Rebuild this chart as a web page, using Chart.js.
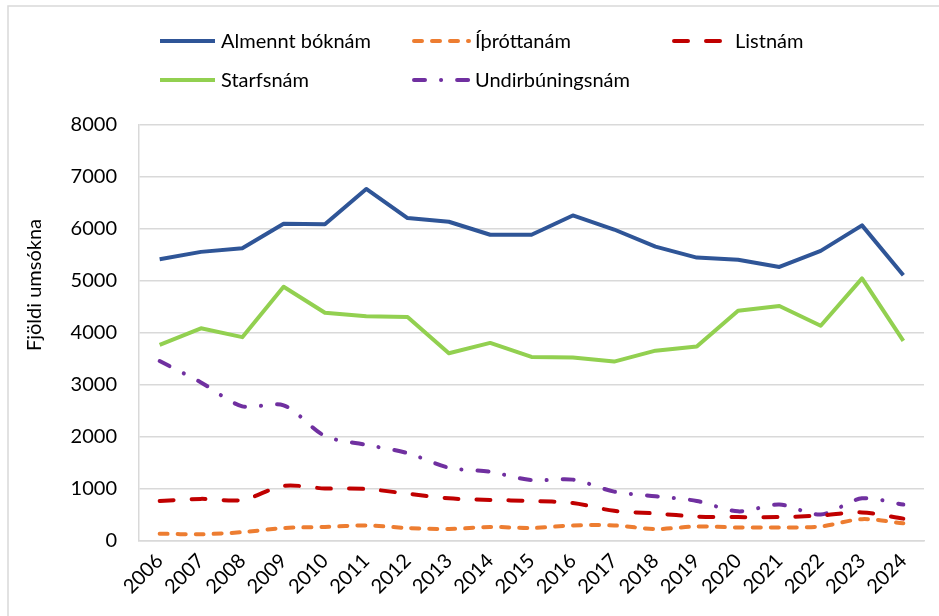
<!DOCTYPE html>
<html lang="is">
<head>
<meta charset="utf-8">
<title>Fjöldi umsókna</title>
<script src="https://cdn.jsdelivr.net/npm/chart.js@4/dist/chart.umd.min.js"></script>
<style>
  html, body { margin: 0; padding: 0; background: #fff; overflow: hidden; }
  #wrap { position: relative; width: 939px; height: 616px; }
</style>
</head>
<body>
<div id="wrap"><canvas id="chart" width="939" height="616"></canvas></div>
<script>
// years on the x axis
const years = ['2006', '2007', '2008', '2009', '2010', '2011', '2012', '2013', '2014', '2015',
  '2016', '2017', '2018', '2019', '2020', '2021', '2022', '2023', '2024'];

// series
const almennt = [5420, 5560, 5630, 6100, 6090, 6770, 6210, 6140, 5890, 5890,
  6260, 5990, 5660, 5450, 5410, 5270, 5580, 6070, 5110];
const ithrottir = [140, 130, 170, 250, 270, 300, 250, 230, 270, 250,
  300, 300, 230, 280, 260, 260, 280, 420, 340];
const list = [770, 810, 790, 1060, 1010, 1000, 910, 820, 790, 770,
  730, 580, 530, 470, 460, 460, 490, 550, 430];
const starfs = [3770, 4090, 3920, 4890, 4390, 4320, 4310, 3610, 3810, 3540,
  3530, 3450, 3660, 3740, 4430, 4520, 4140, 5050, 3850];
const undirb = [3460, 3050, 2590, 2610, 2020, 1850, 1690, 1410, 1330, 1170,
  1180, 950, 860, 770, 570, 700, 510, 820, 700];

const yTicks = [0, 1000, 2000, 3000, 4000, 5000, 6000, 7000, 8000];
const yTitle = 'Fjöldi umsókna';

const FONT = 'Lato, "Open Sans", sans-serif';
const FSIZE = 20;
const GRID = '#d9d9d9';

function series(label, data, color, dash, tension) {
  return {
    label, data,
    borderColor: color,
    backgroundColor: color,
    borderWidth: 4,
    borderDash: dash,
    borderCapStyle: dash.length ? 'round' : 'butt',
    borderJoinStyle: 'round',
    tension: tension,
    pointRadius: 0,
    fill: false
  };
}

// legend in a fixed grid like the original (3 columns, 2 rows)
const legendSlots = [[158, 41], [412, 41], [672, 41], [158, 80], [412, 80]];

const extras = {
  id: 'extras',
  beforeDraw(chart) {
    const ctx = chart.ctx;
    ctx.save();
    ctx.strokeStyle = GRID;
    ctx.lineWidth = 1.5;
    ctx.beginPath();
    ctx.moveTo(8, 620);
    ctx.lineTo(8, 6);
    ctx.lineTo(945, 6);
    ctx.stroke();
    ctx.restore();
  },
  afterDraw(chart) {
    const ctx = chart.ctx;
    ctx.save();
    ctx.font = FSIZE + 'px ' + FONT;
    ctx.fillStyle = '#000';
    ctx.textBaseline = 'middle';
    chart.data.datasets.forEach((ds, i) => {
      const [x, y] = legendSlots[i];
      ctx.strokeStyle = ds.borderColor;
      ctx.lineWidth = 4;
      ctx.lineCap = ds.borderDash.length ? 'round' : 'butt';
      ctx.setLineDash(ds.borderDash);
      ctx.beginPath();
      ctx.moveTo(x + 2, y);
      ctx.lineTo(x + 57, y);
      ctx.stroke();
      ctx.setLineDash([]);
      ctx.textAlign = 'left';
      ctx.fillText(ds.label, x + 63, y + 1);
    });
    // y axis title
    ctx.translate(35, 285);
    ctx.rotate(-Math.PI / 2);
    ctx.textAlign = 'center';
    ctx.fillText(yTitle, 0, 0);
    ctx.restore();
  }
};

new Chart(document.getElementById('chart'), {
  type: 'line',
  data: {
    labels: years,
    datasets: [
      series('Almennt bóknám', almennt, '#2f5597', [], 0),
      series('Íþróttanám', ithrottir, '#ed7d31', [8, 10], 0.3),
      series('Listnám', list, '#c00000', [14, 18], 0.3),
      series('Starfsnám', starfs, '#92d050', [], 0),
      series('Undirbúningsnám', undirb, '#7030a0', [11, 16, 0.1, 16], 0.3)
    ]
  },
  options: {
    responsive: false,
    animation: false,
    layout: { padding: { top: 125, right: 15, bottom: 0, left: 0 } },
    plugins: {
      legend: { display: false },
      tooltip: { enabled: false }
    },
    scales: {
      x: {
        offset: true,
        grid: { display: false, drawTicks: false },
        border: { display: true, color: GRID, width: 1.5 },
        ticks: {
          color: '#000',
          font: { family: FONT, size: FSIZE },
          minRotation: 45,
          maxRotation: 45,
          padding: 8
        },
        afterFit(scale) { scale.height = 75; }
      },
      y: {
        min: yTicks[0],
        max: yTicks[yTicks.length - 1],
        afterBuildTicks(scale) { scale.ticks = yTicks.map(v => ({ value: v })); },
        grid: { color: GRID, lineWidth: 1.5, drawTicks: false },
        border: { display: true, color: GRID, width: 1.5 },
        ticks: {
          color: '#000',
          font: { family: FONT, size: FSIZE },
          padding: 22,
          callback: v => String(v)
        },
        afterFit(scale) { scale.width = 139; }
      }
    }
  },
  plugins: [extras]
});
</script>
</body>
</html>
